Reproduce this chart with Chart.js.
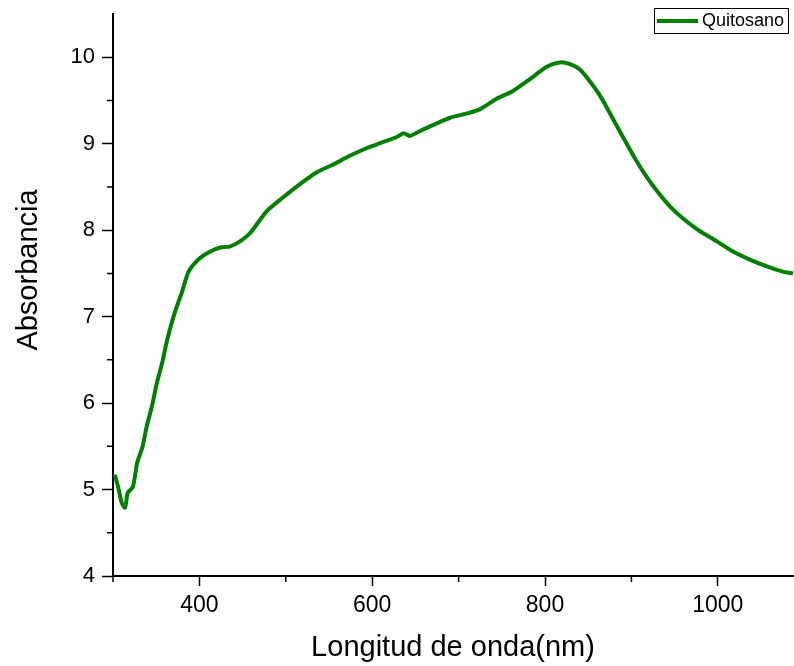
<!DOCTYPE html>
<html>
<head>
<meta charset="utf-8">
<script src="https://cdn.jsdelivr.net/npm/chart.js@4/dist/chart.umd.min.js"></script>
<style>
  html, body { margin: 0; padding: 0; background: #fff; }
  #chart { display: block; }
</style>
</head>
<body>
<canvas id="chart" width="794" height="666"></canvas>
<script>
// wavelength (nm) and absorbance
const wavelength = [302, 306, 310, 314, 317, 323, 328, 334, 339, 345, 351, 357, 362, 368, 374, 380,
    387, 393, 401, 412, 424, 435, 447, 459, 478, 497, 516, 536, 555, 574, 594, 613, 629, 636, 644,
    652, 667, 690, 710, 725, 744, 763, 783, 802, 817, 829, 840, 852, 864, 879, 903, 918, 933,
    948, 964, 979, 999, 1018, 1037, 1057, 1075, 1087];
const absorbance = [5.17, 5.03, 4.85, 4.79, 4.96, 5.03, 5.31, 5.49, 5.73, 5.96, 6.24, 6.47, 6.70,
    6.93, 7.12, 7.29, 7.51, 7.60, 7.68, 7.75, 7.80, 7.81, 7.87, 7.97, 8.22, 8.38, 8.53, 8.67, 8.76,
    8.86, 8.95, 9.02, 9.08, 9.12, 9.09, 9.13, 9.20, 9.30, 9.35, 9.40, 9.52, 9.61, 9.75, 9.89, 9.94,
    9.92, 9.86, 9.72, 9.55, 9.28, 8.85, 8.61, 8.41, 8.24, 8.10, 7.99, 7.87, 7.75, 7.66, 7.58,
    7.52, 7.50];
const seriesName = 'Quitosano';

const xMajor = [400, 600, 800, 1000];
const xMinor = [300, 500, 700, 900];
const yMajor = [4, 5, 6, 7, 8, 9, 10];
const yMinor = [4.5, 5.5, 6.5, 7.5, 8.5, 9.5];

const xTitle = 'Longitud de onda(nm)';
const yTitle = 'Absorbancia';

const lineColor = '#008000';
const fontFamily = '"Liberation Sans", Arial, sans-serif';

const points = wavelength.map((w, i) => ({ x: w, y: absorbance[i] }));

// minor ticks, drawn half as long as the major ones
const minorTicks = {
    id: 'minorTicks',
    afterDraw(chart) {
        const ctx = chart.ctx;
        const xs = chart.scales.x, ys = chart.scales.y;
        ctx.save();
        ctx.strokeStyle = '#000';
        ctx.lineWidth = 1.5;
        ctx.beginPath();
        xMinor.forEach(v => {
            const px = xs.getPixelForValue(v);
            ctx.moveTo(px, ys.bottom);
            ctx.lineTo(px, ys.bottom + 6);
        });
        yMinor.forEach(v => {
            const py = ys.getPixelForValue(v);
            ctx.moveTo(xs.left, py);
            ctx.lineTo(xs.left - 6, py);
        });
        ctx.stroke();
        ctx.restore();
    }
};

// y title sits a bit above the axis middle in the reference
const yTitleText = {
    id: 'yTitleText',
    afterDraw(chart) {
        const ctx = chart.ctx;
        ctx.save();
        ctx.translate(29, 270);
        ctx.rotate(-Math.PI / 2);
        ctx.fillStyle = '#000';
        ctx.font = '29px ' + fontFamily;
        ctx.textAlign = 'center';
        ctx.textBaseline = 'middle';
        ctx.fillText(yTitle, 0, 0);
        ctx.restore();
    }
};

// boxed legend in the top right corner
const boxLegend = {
    id: 'boxLegend',
    afterDraw(chart) {
        const ctx = chart.ctx;
        const area = chart.chartArea;
        const w = 134, h = 25;
        const x0 = area.right - w - 5, y0 = 8;
        ctx.save();
        ctx.fillStyle = '#fff';
        ctx.fillRect(x0, y0, w, h);
        ctx.strokeStyle = '#000';
        ctx.lineWidth = 1;
        ctx.strokeRect(x0 + 0.5, y0 + 0.5, w, h);
        ctx.strokeStyle = lineColor;
        ctx.lineWidth = 4;
        ctx.beginPath();
        ctx.moveTo(x0 + 3, y0 + h / 2 + 0.5);
        ctx.lineTo(x0 + 44, y0 + h / 2 + 0.5);
        ctx.stroke();
        ctx.fillStyle = '#000';
        ctx.font = '18px ' + fontFamily;
        ctx.textBaseline = 'middle';
        ctx.fillText(seriesName, x0 + 48, y0 + h / 2 + 1);
        ctx.restore();
    }
};

new Chart(document.getElementById('chart'), {
    type: 'line',
    data: {
        datasets: [{
            label: seriesName,
            data: points,
            borderColor: lineColor,
            borderWidth: 4,
            pointRadius: 0,
            tension: 0.25,
            fill: false
        }]
    },
    options: {
        responsive: false,
        animation: false,
        layout: { padding: { top: 14, right: 1, left: 0, bottom: 0 } },
        plugins: {
            legend: { display: false },
            tooltip: { enabled: false }
        },
        scales: {
            x: {
                type: 'linear',
                min: 300,
                max: 1087,
                afterBuildTicks: s => { s.ticks = xMajor.map(v => ({ value: v })); },
                afterFit: s => { s.height = 90; s.paddingLeft = 0; s.paddingRight = 0; },
                border: { color: '#000', width: 2 },
                grid: { drawOnChartArea: false, drawTicks: true, tickLength: 10, tickColor: '#000', tickWidth: 1.5 },
                ticks: {
                    color: '#000',
                    font: { family: fontFamily, size: 23 },
                    padding: 6,
                    maxRotation: 0,
                    callback: v => String(v)
                },
                title: {
                    display: true,
                    text: xTitle,
                    color: '#000',
                    font: { family: fontFamily, size: 29 },
                    padding: { top: 0, bottom: 1 }
                }
            },
            y: {
                type: 'linear',
                min: 4,
                max: 10.5,
                afterBuildTicks: s => { s.ticks = yMajor.map(v => ({ value: v })); },
                afterFit: s => { s.width = 113; s.paddingTop = 0; s.paddingBottom = 0; },
                border: { color: '#000', width: 2 },
                grid: { drawOnChartArea: false, drawTicks: true, tickLength: 11, tickColor: '#000', tickWidth: 1.5 },
                ticks: {
                    color: '#000',
                    font: { family: fontFamily, size: 22 },
                    padding: 7,
                    callback: v => String(v)
                }
            }
        }
    },
    plugins: [minorTicks, yTitleText, boxLegend]
});
</script>
</body>
</html>
